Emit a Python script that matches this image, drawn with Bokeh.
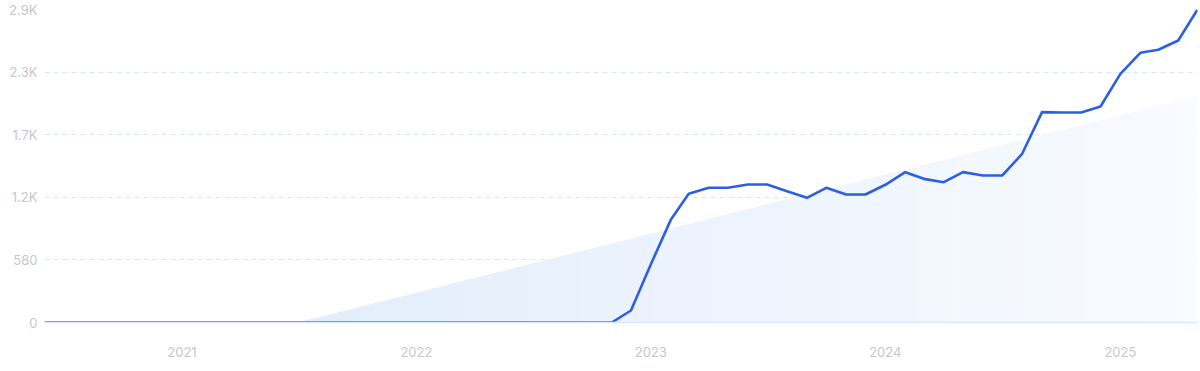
import numpy as np
import pandas as pd
from bokeh.plotting import figure
from bokeh.models import FixedTicker, DatetimeTickFormatter, Range1d
from bokeh.embed import file_html
from bokeh.resources import INLINE

# ---- data ----
months = pd.date_range("2020-06-01", "2025-05-01", freq="MS")
values = [0] * 30 + [
    111, 540, 951, 1192, 1248, 1248, 1279, 1279, 1217, 1155,
    1248, 1186, 1186, 1276, 1393, 1331, 1300, 1393, 1362, 1362,
    1563, 1949, 1946, 1946, 2001, 2304, 2499, 2527, 2613, 2900,
]
trend_dates = ["2021-07-01", "2025-05-01"]
trend_values = [0, 2100]
y_ticks = [0, 580, 1160, 1740, 2320, 2900]
y_labels = ["0", "580", "1.2K", "1.7K", "2.3K", "2.9K"]
x_tick_years = [2021, 2022, 2023, 2024, 2025]

# ---- figure ----
p = figure(
    width=1200, height=370, x_axis_type="datetime",
    output_backend="svg", toolbar_location=None,
    min_border_left=44, min_border_right=3, min_border_top=9, min_border_bottom=48,
)
p.x_range = Range1d(months[0], months[-1])
p.y_range = Range1d(0, 2900)
p.outline_line_color = None
p.background_fill_color = "white"
p.border_fill_color = "white"

# gradient trend area (horizontal colour gradient built from segments)
td = pd.to_datetime(trend_dates)
t_ms = np.array([d.value / 1e6 for d in td])
n = 48
edges = np.linspace(t_ms[0], t_ms[1], n + 1)
c0 = np.array([0xE3, 0xED, 0xFB])
c1 = np.array([0xF8, 0xFB, 0xFF])
step = edges[1] - edges[0]
for i in range(n):
    xa, xb = edges[i], min(edges[i + 1] + step * 0.3, t_ms[1])
    ya, yb = np.interp([xa, xb], t_ms, trend_values)
    f = (i + 0.5) / n
    col = tuple(int(round(v)) for v in c0 + (c1 - c0) * f)
    p.varea(x=[xa, xb], y1=[0, 0], y2=[ya, yb], fill_color="#%02x%02x%02x" % col,
            fill_alpha=1.0)

# main line
p.line(months, values, line_color="#2d5fe4", line_width=2.6, line_join="round")

# ---- axes ----
lbl_font = "Inter"
lbl_color = "#c5c6d0"

p.yaxis.ticker = FixedTicker(ticks=y_ticks)
p.yaxis.major_label_overrides = {t: l for t, l in zip(y_ticks, y_labels)}
p.yaxis.axis_line_color = None
p.yaxis.major_tick_line_color = None
p.yaxis.minor_tick_line_color = None
p.yaxis.major_tick_out = 0
p.yaxis.major_tick_in = 0
p.yaxis.minor_tick_out = 0
p.yaxis.major_label_standoff = 7
p.yaxis.major_label_text_font = lbl_font
p.yaxis.major_label_text_font_size = "13px"
p.yaxis.major_label_text_color = lbl_color

year_ms = [pd.Timestamp(f"{y}-01-01").value / 1e6 for y in x_tick_years]
p.xaxis.ticker = FixedTicker(ticks=year_ms)
p.xaxis.formatter = DatetimeTickFormatter(years="%Y", months="%Y", days="%Y")
p.xaxis.axis_line_color = "#d7e9fb"
p.xaxis.axis_line_width = 1.5
p.xaxis.major_tick_line_color = None
p.xaxis.minor_tick_line_color = None
p.xaxis.major_tick_out = 0
p.xaxis.major_tick_in = 0
p.xaxis.minor_tick_out = 0
p.xaxis.major_label_standoff = 24
p.xaxis.major_label_text_font = lbl_font
p.xaxis.major_label_text_font_size = "13px"
p.xaxis.major_label_text_color = lbl_color

p.xgrid.grid_line_color = None
p.ygrid.grid_line_color = "#d9e6f6"
p.ygrid.grid_line_dash = "5 4"
p.ygrid.grid_line_width = 1

open("out.html", "w").write(file_html(p, INLINE))
